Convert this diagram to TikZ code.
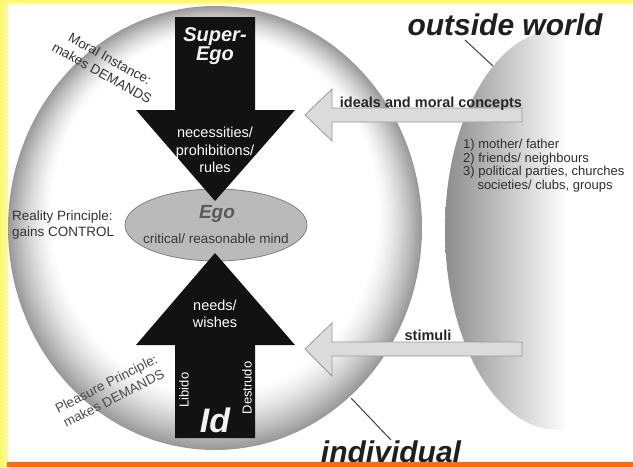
\documentclass[tikz,border=0pt]{standalone}
\usepackage{fontspec}
\setmainfont{Liberation Sans}
\usetikzlibrary{shapes.geometric, positioning}

\pgfdeclarehorizontalshading{worldshade}{100bp}{color(0bp)=(black!45); color(25bp)=(black!45); color(52bp)=(white); color(100bp)=(white)}

\begin{document}
\begin{tikzpicture}[
	x=1pt, y=-1pt,
	label/.style={text=black!80, align=center, inner sep=0pt, font=\fontsize{13.5}{15.5}\selectfont},
	inlabel/.style={text=white, align=center, inner sep=0pt, font=\fontsize{14.5}{17.5}\selectfont},
	title/.style={text=black!88, inner sep=0pt, font=\fontsize{30}{34}\selectfont\bfseries\itshape},
	bigarrow/.style={fill=black!93},
	grayarrow/.style={fill=black!14, draw=black!40, line width=0.8pt},
	pointer/.style={draw=black!75, line width=1pt}
	]
	\useasboundingbox (0,0) rectangle (633,467);
	\clip (0,0) rectangle (633,467);

	% individual: gray rim fading to white
	\foreach \k in {0,...,40} {
		\pgfmathsetmacro{\t}{\k/40}
		\pgfmathsetmacro{\shadeval}{40*(1-\t)^1.4}
		\fill[black!\shadeval] (215,228-14*\t) ellipse [x radius=207-44*\t, y radius=222-44*\t];
	}
	% outside world
	\shade[shading=worldshade] (558,230) ellipse [x radius=113, y radius=200];

	% Ego
	\node[ellipse, fill=black!27, draw=black!50, line width=0.8pt,
		minimum width=182, minimum height=72] (ego) at (216,225) {};
	\node[text=black!65, inner sep=0pt, font=\fontsize{19}{21}\selectfont\bfseries\itshape]
		(egotitle) at (217,214) {Ego};
	\node[label, text=black!78, font=\fontsize{13.5}{15}\selectfont] (mind) at (216,239)
		{critical/ reasonable mind};

	% Super-Ego and Id
	\fill[bigarrow] (175,17) -- (255,17) -- (255,110) -- (295,110) -- (215,201)
		-- (136,110) -- (175,110) -- cycle;
	\fill[bigarrow] (175,438) -- (255,438) -- (255,345) -- (295,345) -- (215,253)
		-- (136,345) -- (175,345) -- cycle;

	\node[inlabel, font=\fontsize{20}{19}\selectfont\bfseries\itshape, text=black!5]
		(superego) at (215,46) {Super-\\Ego};
	\node[inlabel] (rules) at (215,150) {necessities/\\prohibitions/\\rules};
	\node[inlabel] (needs) at (215,314) {needs/\\wishes};
	\node[inlabel, rotate=90, font=\fontsize{13}{15}\selectfont] (libido) at (184,390) {Libido};
	\node[inlabel, rotate=90, font=\fontsize{13}{15}\selectfont] (destrudo) at (247,388) {Destrudo};
	\node[inlabel, text=black!5, font=\fontsize{34}{36}\selectfont\bfseries\itshape]
		(id) at (215,420) {Id};

	% influences of the outside world
	\draw[grayarrow] (522,108) -- (522,122) -- (332,122) -- (332,141) -- (305,115)
		-- (332,89) -- (332,108) -- cycle;
	\draw[grayarrow] (522,342) -- (522,356) -- (332,356) -- (332,376) -- (305,349)
		-- (332,323) -- (332,342) -- cycle;
	\node[label, anchor=base, text=black!85, font=\fontsize{14.5}{16}\selectfont\bfseries]
		(ideals) at (431,107) {ideals and moral concepts};
	\node[label, anchor=base, text=black!85, font=\fontsize{14.5}{16}\selectfont\bfseries]
		(stimuli) at (428,340) {stimuli};

	\node[label, anchor=north west, align=left, text=black!82,
		font=\fontsize{13}{13.5}\selectfont] (groups) at (463,139)
		{1) mother/ father\\2) friends/ neighbours\\3) political parties, churches\\
		\hspace*{1.1em}societies/ clubs, groups};

	% principles
	\node[label, rotate=-29, font=\fontsize{13.5}{16.5}\selectfont] (moral) at (106,66)
		{Moral Instance:\\makes DEMANDS};
	\node[label, anchor=west, align=left] (reality) at (12,225) {Reality Principle:\\gains CONTROL};
	\node[label, rotate=27, text=black!70, font=\fontsize{13.5}{16.5}\selectfont] (pleasure) at (110,391)
		{Pleasure Principle:\\makes DEMANDS};

	% titles
	\node[title, anchor=base] (world) at (505,35) {outside world};
	\node[title, anchor=base] (individual) at (391,462) {individual};
	\coordinate (worldedge) at (493,66);
	\coordinate (ringedge) at (351,398);
	\draw[pointer] (465,40) -- (worldedge);
	\draw[pointer] (391,440) -- (ringedge);

	% page frame
	\fill[yellow!55] (0,0) rectangle (633,3);
	\fill[yellow!55] (0,0) rectangle (7,467);
	\draw[white, line width=2pt, dash pattern=on 2pt off 2pt] (3.5,3) -- (3.5,467);
	\fill[orange!85!red] (7,462) rectangle (633,467);
\end{tikzpicture}
\end{document}
